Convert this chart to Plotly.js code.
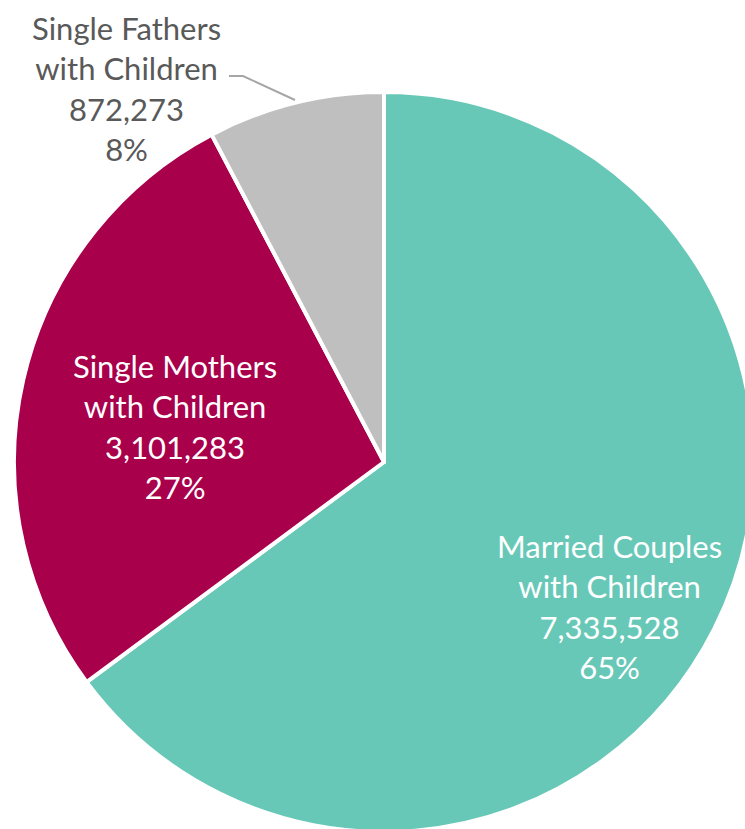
<!DOCTYPE html>
<html>
<head>
<meta charset="utf-8">
<script src="https://cdn.plot.ly/plotly-3.0.1.min.js"></script>
<style>
html,body{margin:0;padding:0;overflow:hidden;background:#fff;}
#chart{width:760px;height:840px;}
</style>
</head>
<body>
<div id="chart"></div>
<script>
var categories = ["Married Couples with Children", "Single Mothers with Children", "Single Fathers with Children"];
var labelLines = [["Married Couples", "with Children"], ["Single Mothers", "with Children"], ["Single Fathers", "with Children"]];
var values = [7335528, 3101283, 872273];
var colors = ["#68C8B7", "#A9004B", "#BFBFBF"];

var total = values.reduce(function(a, b){ return a + b; }, 0);
function fmt(n){ return n.toString().replace(/\B(?=(\d{3})+(?!\d))/g, ","); }
function labelText(i){
  return labelLines[i].join("<br>") + "<br>" + fmt(values[i]) + "<br>" + Math.round(values[i] / total * 100) + "%";
}

var FONT = "Lato, 'Open Sans', sans-serif";
var annPos = [
  {x: 0.8054, y: 0.3054, color: "#FFFFFF"},
  {x: 0.2176, y: 0.5473, color: "#FFFFFF"},
  {x: 0.1527, y: 1.0054, color: "#595959"}
];

var annotations = categories.map(function(c, i){
  return {
    xref: "paper", yref: "paper", x: annPos[i].x, y: annPos[i].y,
    xanchor: "center", yanchor: "middle", showarrow: false,
    text: labelText(i),
    font: {family: FONT, size: 31, color: annPos[i].color}
  };
});

var trace = {
  type: "pie",
  labels: categories,
  values: values,
  sort: false,
  direction: "clockwise",
  rotation: 0,
  marker: {colors: colors, line: {color: "#FFFFFF", width: 4}},
  textinfo: "none",
  hoverinfo: "label+value+percent",
  showlegend: false
};

var layout = {
  width: 760, height: 840,
  margin: {l: 14, r: 6, t: 92, b: 8},
  paper_bgcolor: "#FFFFFF",
  plot_bgcolor: "#FFFFFF",
  showlegend: false,
  annotations: annotations,
  shapes: [{
    type: "path", xref: "paper", yref: "paper",
    path: "M 0.2905 1.0216 L 0.3095 1.0216 L 0.3797 0.9892",
    line: {color: "#A6A6A6", width: 2}
  }]
};

Plotly.newPlot("chart", [trace], layout, {displayModeBar: false, staticPlot: true});
</script>
</body>
</html>
